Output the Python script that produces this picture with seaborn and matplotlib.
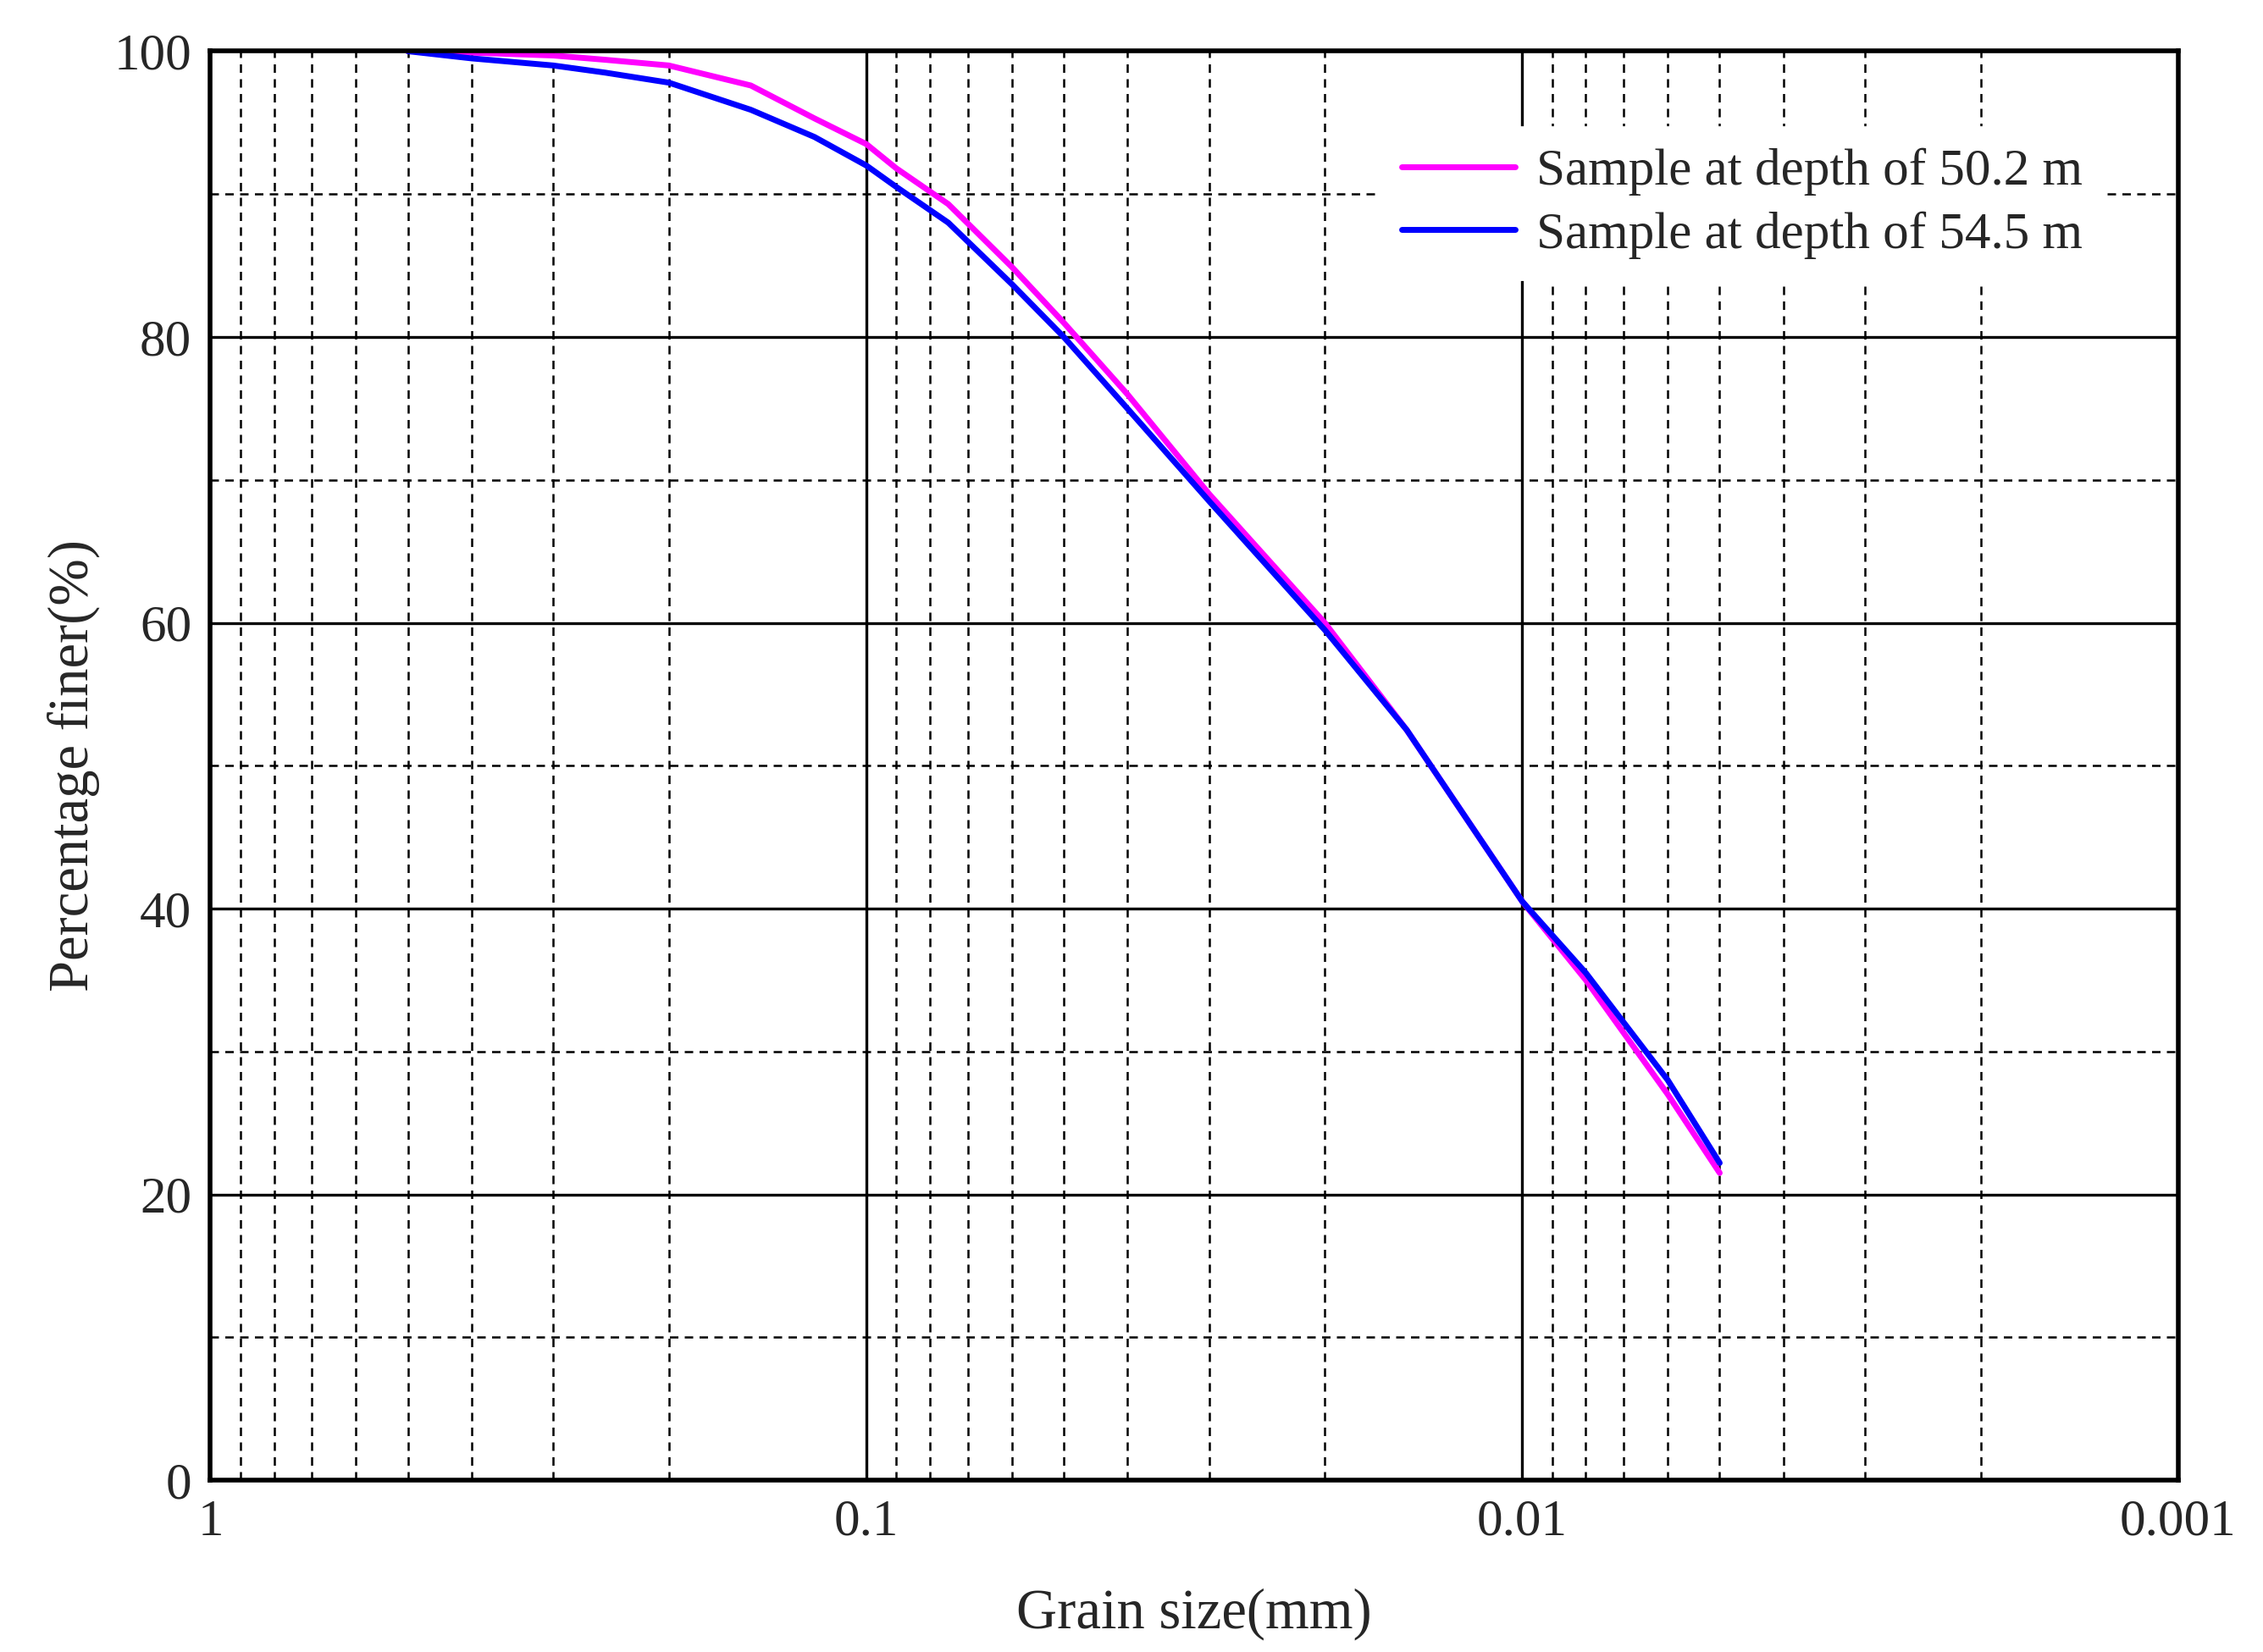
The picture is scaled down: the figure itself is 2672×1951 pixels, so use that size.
import matplotlib
matplotlib.use("Agg")
import matplotlib.pyplot as plt
import matplotlib.ticker as mticker
import numpy as np
import pandas as pd
import seaborn as sns

# Grain size (mm) and percentage finer
SIZE = [0.5, 0.4, 0.3, 0.25, 0.2, 0.15, 0.12, 0.1, 0.09, 0.075, 0.06, 0.05,
        0.04, 0.03, 0.02, 0.015, 0.01, 0.008, 0.006, 0.005]
FINER_502 = [100, 99.9, 99.7, 99.4, 99.0, 97.6, 95.3, 93.5, 91.8, 89.3, 84.9, 81.0,
             76.0, 69.0, 60.0, 52.5, 40.5, 35.0, 27.0, 21.5]
FINER_545 = [100, 99.5, 99.0, 98.5, 97.8, 95.9, 94.0, 92.0, 90.5, 88.0, 83.7, 80.0,
             75.0, 68.5, 59.5, 52.5, 40.5, 35.5, 28.0, 22.2]
LABELS = ["Sample at depth of 50.2 m", "Sample at depth of 54.5 m"]
COLORS = ["#ff00ff", "#0000ff"]

df = pd.concat([
    pd.DataFrame({"size": SIZE, "finer": FINER_502, "sample": LABELS[0]}),
    pd.DataFrame({"size": SIZE, "finer": FINER_545, "sample": LABELS[1]}),
])

sns.set_style("white")
plt.rcParams["font.family"] = ["Liberation Serif", "DejaVu Serif"]

fig = plt.figure(figsize=(13.36, 9.755), dpi=200)
ax = fig.add_axes([0.093, 0.104, 0.8695, 0.865])

sns.lineplot(data=df, x="size", y="finer", hue="sample", palette=COLORS,
             linewidth=2.5, sort=False, ax=ax)

ax.set_xscale("log")
ax.set_xlim(1, 0.001)
ax.set_ylim(0, 100)
ax.xaxis.set_major_locator(mticker.FixedLocator([1, 0.1, 0.01, 0.001]))
ax.xaxis.set_major_formatter(mticker.FixedFormatter(["1", "0.1", "0.01", "0.001"]))
ax.xaxis.set_minor_locator(mticker.LogLocator(base=10, subs=np.arange(2, 10)))
ax.xaxis.set_minor_formatter(mticker.NullFormatter())
ax.yaxis.set_major_locator(mticker.MultipleLocator(20))
ax.yaxis.set_minor_locator(mticker.MultipleLocator(10))

ax.grid(which="major", color="black", linestyle="-", linewidth=1.2)
ax.grid(which="minor", color="black", linestyle=(0, (4, 3)), linewidth=0.9)
ax.set_axisbelow(True)
ax.tick_params(which="both", length=0, labelsize=22, pad=8)
for s in ax.spines.values():
    s.set_color("black")
    s.set_linewidth(2)

ax.set_xlabel("Grain size(mm)", fontsize=24, labelpad=18)
ax.set_ylabel("Percentage finer(%)", fontsize=24, labelpad=6)

leg = ax.legend(loc="upper right", bbox_to_anchor=(0.975, 0.965), fontsize=22,
                frameon=True, framealpha=1, edgecolor="white", fancybox=False,
                handlelength=2.2, handletextpad=0.4, borderpad=0.4, labelspacing=0.3)
for line in leg.get_lines():
    line.set_linewidth(2.5)

fig.savefig("out.png", dpi=200)
